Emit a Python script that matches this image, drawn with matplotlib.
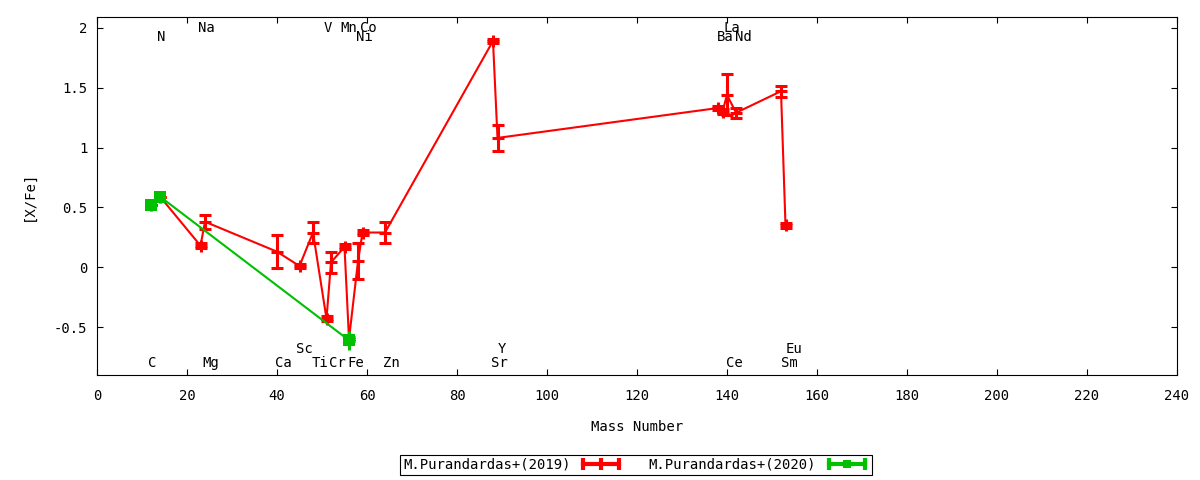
import numpy as np
import matplotlib
matplotlib.use("Agg")
import matplotlib.pyplot as plt
from matplotlib.lines import Line2D
from matplotlib.legend_handler import HandlerLine2D, HandlerTuple

plt.rcParams['font.family'] = ['DejaVu Sans Mono']
plt.rcParams['font.size'] = 10

# M.Purandardas+(2019)
mass_2019 = [12, 14, 23, 24, 40, 45, 48, 51, 52, 55, 56, 58, 59, 64,
             88, 89, 138, 139, 140, 142, 152, 153]
xfe_2019 = [0.52, 0.59, 0.18, 0.38, 0.13, 0.01, 0.29, -0.43, 0.04, 0.17,
            -0.60, 0.05, 0.29, 0.29, 1.89, 1.08, 1.33, 1.30, 1.44, 1.29,
            1.47, 0.35]
err_2019 = [0.0, 0.0, 0.02, 0.06, 0.14, 0.02, 0.09, 0.02, 0.09, 0.02,
            0.02, 0.15, 0.02, 0.09, 0.02, 0.11, 0.02, 0.02, 0.17, 0.04,
            0.045, 0.02]

# M.Purandardas+(2020)
mass_2020 = [12, 14, 56]
xfe_2020 = [0.52, 0.59, -0.61]
err_2020 = [0.02, 0.02, 0.08]

# element labels
top_names = ['Na', 'V', 'Mn', 'Co', 'La']
top_x = [24.2, 51.3, 55.9, 60.3, 141.0]
top2_names = ['N', 'Ni', 'Ba', 'Nd']
top2_x = [14.3, 59.4, 139.6, 143.7]
bot_names = ['C', 'Mg', 'Ca', 'Ti', 'Cr', 'Fe', 'Zn', 'Sr', 'Ce', 'Sm']
bot_x = [12.3, 25.3, 41.4, 49.5, 53.4, 57.4, 65.5, 89.4, 141.7, 153.8]
bot2_names = ['Sc', 'Y', 'Eu']
bot2_x = [46.1, 89.9, 154.9]

red = '#ff0000'
green = '#00c000'

fig = plt.figure(figsize=(12, 4.8), dpi=100)
ax = fig.add_axes([97 / 1200, 105 / 480, 1080 / 1200, 358 / 480])

ax.errorbar(mass_2019, xfe_2019, yerr=err_2019, color=red, lw=1.5,
            marker='+', markersize=8, mew=2.2, elinewidth=2.2,
            capsize=4, capthick=2.2, zorder=3)
ax.errorbar(mass_2020, xfe_2020, yerr=err_2020, color=green, lw=1.5,
            marker='s', markersize=8, mew=0, elinewidth=2.2,
            capsize=4, capthick=2.2, zorder=4)

for names, xs, y in [(top_names, top_x, 2.0), (top2_names, top2_x, 1.92),
                     (bot_names, bot_x, -0.80), (bot2_names, bot2_x, -0.685)]:
    for n, x in zip(names, xs):
        ax.text(x, y, n, ha='center', va='center', fontsize=10)

ax.set_xlim(0, 240)
ax.set_ylim(-0.9, 2.09)
ax.set_xticks(np.arange(0, 241, 20))
ax.set_yticks([-0.5, 0, 0.5, 1, 1.5, 2])
ax.set_yticklabels(['-0.5', '0', '0.5', '1', '1.5', '2'])
ax.tick_params(direction='in', length=4, width=0.8, top=True, right=True,
               labelsize=10)
ax.tick_params(axis='x', pad=10)
ax.tick_params(axis='y', pad=7)
for s in ax.spines.values():
    s.set_linewidth(0.8)

ax.set_xlabel('Mass Number', fontsize=10)
ax.set_ylabel('[X/Fe]', fontsize=10)
ax.xaxis.set_label_coords(0.5, -0.125)
ax.yaxis.set_label_coords(-0.057, 0.5)

# gnuplot style legend samples: line with end caps, marker in middle
caps_r = Line2D([], [], color=red, lw=3, marker='|', markersize=8, mew=3)
pt_r = Line2D([], [], color=red, lw=0, marker='|', markersize=8, mew=3)
caps_g = Line2D([], [], color=green, lw=3, marker='|', markersize=8, mew=3)
pt_g = Line2D([], [], color=green, lw=0, marker='s', markersize=6, mew=0)
hmap = {caps_r: HandlerLine2D(numpoints=2), caps_g: HandlerLine2D(numpoints=2),
        pt_r: HandlerLine2D(numpoints=1), pt_g: HandlerLine2D(numpoints=1),
        tuple: HandlerTuple(ndivide=1)}
leg = fig.legend([(caps_r, pt_r), (caps_g, pt_g)],
                 ['M.Purandardas+(2019)', 'M.Purandardas+(2020)'],
                 handler_map=hmap, loc='center', bbox_to_anchor=(636 / 1200, 15 / 480),
                 ncol=2, markerfirst=False, handlelength=3.2, columnspacing=1.8,
                 handletextpad=0.6, borderpad=0.25, fancybox=False,
                 edgecolor='black', framealpha=1, fontsize=10)
leg.get_frame().set_linewidth(0.8)

fig.savefig('out.png', dpi=100)
